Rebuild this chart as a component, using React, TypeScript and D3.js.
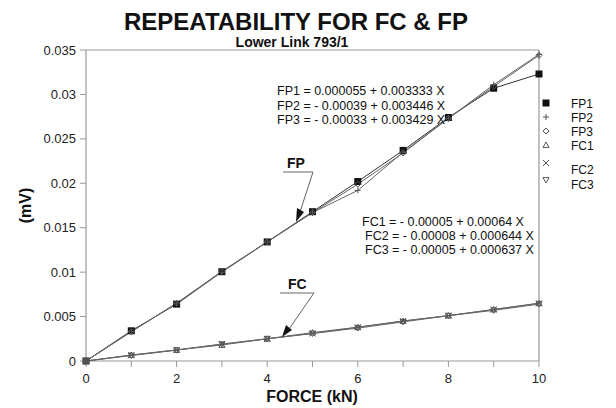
import React from "react";
import * as d3 from "d3";

const forces = [0, 1, 2, 3, 4, 5, 6, 7, 8, 9, 10];
const fp1 = [0, 0.0034, 0.0064, 0.01005, 0.0134, 0.0168, 0.0202, 0.0237, 0.0274, 0.0307, 0.0323];
const fp2 = [0, 0.0033, 0.0065, 0.0100, 0.0134, 0.0167, 0.0192, 0.0235, 0.0273, 0.0311, 0.0345];
const fp3 = [0, 0.0033, 0.0065, 0.0101, 0.0134, 0.0167, 0.0199, 0.0234, 0.0273, 0.0309, 0.0344];
const fc1 = [0, 0.00068, 0.00124, 0.0018, 0.0025, 0.0032, 0.0038, 0.0045, 0.0051, 0.0058, 0.0065];
const fc2 = [0, 0.00064, 0.00125, 0.0019, 0.0025, 0.0031, 0.0038, 0.0045, 0.0051, 0.0058, 0.0065];
const fc3 = [0, 0.00062, 0.00122, 0.0019, 0.0025, 0.0031, 0.0037, 0.0044, 0.0051, 0.0057, 0.0064];

const seriesNames = ["FP1", "FP2", "FP3", "FC1", "FC2", "FC3"];
const seriesValues = [fp1, fp2, fp3, fc1, fc2, fc3];
const seriesSymbols = ["square", "plus", "diamond", "triangle", "cross", "triangleDown"];

const yTicks = [0, 0.005, 0.01, 0.015, 0.02, 0.025, 0.03, 0.035];
const yTickLabels = ["0", "0.005", "0.01", "0.015", "0.02", "0.025", "0.03", "0.035"];
const xMinorTicks = [0, 1, 2, 3, 4, 5, 6, 7, 8, 9, 10];
const xTickLabels = [0, 2, 4, 6, 8, 10];

const fpEquations = [
  "FP1 = 0.000055 + 0.003333 X",
  "FP2 = - 0.00039 + 0.003446 X",
  "FP3 = - 0.00033 + 0.003429 X",
];
const fcEquations = [
  "FC1 = - 0.00005 + 0.00064 X",
  "FC2 = - 0.00008 + 0.000644 X",
  "FC3 = - 0.00005 + 0.000637 X",
];

const W = 616;
const H = 408;
const left = 86;
const right = 539;
const top = 50;
const bottom = 361;
const FONT = "'Liberation Sans', Arial, Helvetica, sans-serif";

function Marker({ kind, x, y, s = 3 }: { kind: string; x: number; y: number; s?: number }) {
  const stroke = "#555";
  switch (kind) {
    case "square":
      return <rect x={x - s} y={y - s} width={2 * s} height={2 * s} fill="#111" />;
    case "plus":
      return (
        <path d={`M${x - s},${y}H${x + s}M${x},${y - s}V${y + s}`} stroke={stroke} strokeWidth={1} fill="none" />
      );
    case "diamond":
      return (
        <path d={`M${x},${y - s}L${x + s},${y}L${x},${y + s}L${x - s},${y}Z`} stroke={stroke} strokeWidth={1} fill="none" />
      );
    case "triangle":
      return (
        <path d={`M${x},${y - s}L${x + s},${y + s * 0.8}L${x - s},${y + s * 0.8}Z`} stroke={stroke} strokeWidth={1} fill="none" />
      );
    case "cross":
      return (
        <path d={`M${x - s},${y - s}L${x + s},${y + s}M${x - s},${y + s}L${x + s},${y - s}`} stroke={stroke} strokeWidth={1} fill="none" />
      );
    case "triangleDown":
      return (
        <path d={`M${x},${y + s}L${x + s},${y - s * 0.8}L${x - s},${y - s * 0.8}Z`} stroke={stroke} strokeWidth={1} fill="none" />
      );
    default:
      return null;
  }
}

export default function App() {
  const x = d3.scaleLinear().domain([0, 10]).range([left, right]);
  const y = d3.scaleLinear().domain([0, 0.035]).range([bottom, top]);
  const line = d3
    .line<number>()
    .x((_, i) => x(forces[i]))
    .y((d) => y(d));

  const legendMarkerY = [103, 117, 131, 145, 163, 180];
  const legendLabelY = [104, 118, 132, 145.5, 170, 185];

  return (
    <svg width={W} height={H} style={{ position: "absolute", left: 0, top: 0, background: "#fff" }} fontFamily={FONT}>
      <rect x={0} y={0} width={W} height={H} fill="#fff" />
      {/* titles */}
      <text x={296} y={30} textAnchor="middle" fontSize={24} fontWeight="bold" fill="#111">
        REPEATABILITY FOR FC &amp; FP
      </text>
      <text x={292} y={47} textAnchor="middle" fontSize={14} fontWeight="bold" fill="#111">
        Lower Link 793/1
      </text>

      {/* frame */}
      <path d={`M${left},${top}H${right}V${bottom}`} stroke="#999" fill="none" strokeWidth={1.2} />
      <line x1={left} x2={left} y1={top} y2={bottom} stroke="#999" strokeWidth={1.2} />
      <line x1={left} x2={right} y1={bottom} y2={bottom} stroke="#999" strokeWidth={1.2} />

      {/* y ticks */}
      {yTicks.map((t, i) => (
        <g key={"y" + i}>
          <line x1={left - 6} x2={left} y1={y(t)} y2={y(t)} stroke="#999" />
          <text x={left - 10} y={y(t)} dy="0.35em" textAnchor="end" fontSize={13} fill="#222">
            {yTickLabels[i]}
          </text>
        </g>
      ))}
      {/* x ticks */}
      {xMinorTicks.map((t) => (
        <line key={"xt" + t} x1={x(t)} x2={x(t)} y1={bottom} y2={bottom + 6} stroke="#999" />
      ))}
      {xTickLabels.map((t) => (
        <text key={"xl" + t} x={x(t)} y={bottom + 22} textAnchor="middle" fontSize={13} fill="#222">
          {t}
        </text>
      ))}

      <text x={312} y={402} textAnchor="middle" fontSize={16} fontWeight="bold" fill="#111">
        FORCE (kN)
      </text>
      <text
        transform={`translate(31,${(top + bottom) / 2}) rotate(-90)`}
        textAnchor="middle"
        fontSize={16}
        fontWeight="bold"
        fill="#111"
      >
        (mV)
      </text>

      {/* series lines */}
      {seriesValues.map((vals, si) => (
        <path key={"l" + si} d={line(vals) || ""} fill="none" stroke={si === 0 ? "#333" : "#666"} strokeWidth={1} />
      ))}
      {/* markers */}
      {seriesValues.map((vals, si) =>
        vals.map((v, i) => (
          <Marker key={`m${si}-${i}`} kind={seriesSymbols[si]} x={x(forces[i])} y={y(v)} s={si === 0 ? 3.5 : 3} />
        ))
      )}

      {/* equations */}
      {fpEquations.map((e, i) => (
        <text key={"fpe" + i} x={277} y={95 + i * 14.5} fontSize={12.5} fill="#111">
          {e}
        </text>
      ))}
      {fcEquations.map((e, i) => (
        <text key={"fce" + i} x={i === 0 ? 362 : 365} y={226 + i * 14} fontSize={12.5} fill="#111">
          {e}
        </text>
      ))}

      {/* FP annotation */}
      <text x={287} y={168} fontSize={14} fontWeight="bold" fill="#111">FP</text>
      <path d="M283,172H313L300,212" stroke="#666" fill="none" strokeWidth={1} />
      <path d="M296,222L297,208L304,212Z" fill="#111" />
      {/* FC annotation */}
      <text x={288} y={289} fontSize={14} fontWeight="bold" fill="#111">FC</text>
      <path d="M280,293H314L289,329" stroke="#666" fill="none" strokeWidth={1} />
      <path d="M282,337L286,325L292,330Z" fill="#111" />

      {/* legend */}
      {seriesNames.map((n, i) => (
        <g key={"lg" + i}>
          <Marker kind={seriesSymbols[i]} x={546} y={legendMarkerY[i]} s={i === 0 ? 3.5 : 3} />
          <text x={571} y={legendLabelY[i]} dy="0.35em" fontSize={12} fill="#111">
            {n}
          </text>
        </g>
      ))}
    </svg>
  );
}
